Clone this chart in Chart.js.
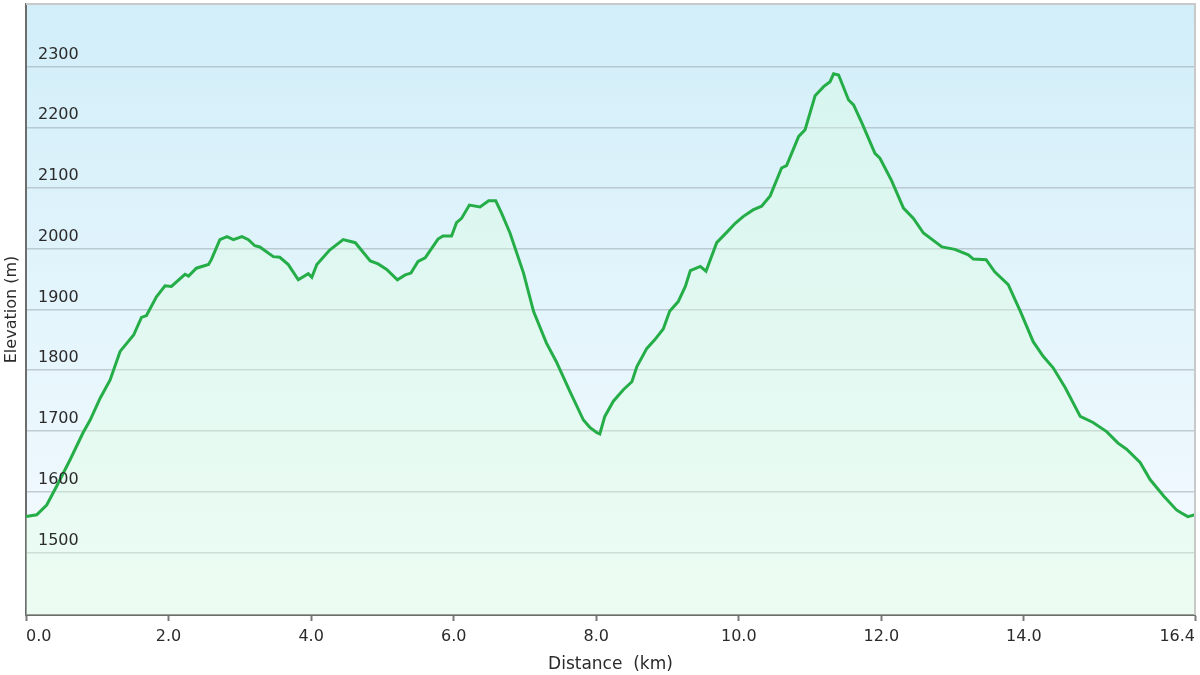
<!DOCTYPE html>
<html>
<head>
<meta charset="utf-8">
<title>Elevation profile</title>
<script src="https://cdn.jsdelivr.net/npm/chart.js@4.4.1/dist/chart.umd.min.js"></script>
<style>
  html, body { margin: 0; padding: 0; background: #ffffff; }
  #wrap { width: 1200px; height: 675px; }
</style>
</head>
<body>
<div id="wrap"><canvas id="profileChart"></canvas></div>
<script>
// Distance along the track (km) and elevation (m)
const distanceKm = [
  0.00, 0.15, 0.29, 0.43, 0.62, 0.80, 0.90, 1.04, 1.18, 1.32,
  1.51, 1.62, 1.69, 1.83, 1.95, 2.04, 2.23, 2.28, 2.39, 2.56,
  2.60, 2.72, 2.82, 2.91, 3.03, 3.12, 3.21, 3.28, 3.47, 3.56,
  3.68, 3.82, 3.96, 4.01, 4.08, 4.26, 4.45, 4.62, 4.83, 4.94,
  5.06, 5.21, 5.32, 5.40, 5.50, 5.60, 5.78, 5.85, 5.97, 6.04,
  6.11, 6.22, 6.37, 6.49, 6.59, 6.67, 6.79, 6.98, 7.12, 7.30,
  7.44, 7.63, 7.82, 7.91, 8.01, 8.05, 8.12, 8.24, 8.38, 8.50,
  8.57, 8.71, 8.82, 8.94, 9.03, 9.15, 9.25, 9.32, 9.46, 9.54,
  9.69, 9.83, 9.95, 10.06, 10.20, 10.32, 10.44, 10.60, 10.67, 10.84,
  10.93, 11.07, 11.19, 11.28, 11.33, 11.40, 11.54, 11.61, 11.72, 11.91,
  11.98, 12.14, 12.31, 12.45, 12.59, 12.85, 13.03, 13.22, 13.29, 13.47,
  13.59, 13.78, 13.95, 14.13, 14.27, 14.41, 14.58, 14.79, 14.97, 15.16,
  15.32, 15.44, 15.63, 15.77, 15.96, 16.14, 16.21, 16.30, 16.40
];
const elevationM = [
  1559, 1562, 1578, 1609, 1653, 1697, 1718, 1754, 1784, 1831,
  1858, 1887, 1890, 1921, 1939, 1938, 1958, 1955, 1968, 1974,
  1982, 2015, 2020, 2015, 2020, 2015, 2005, 2003, 1987, 1986,
  1974, 1949, 1959, 1953, 1974, 1998, 2015, 2010, 1980, 1975,
  1966, 1949, 1957, 1960, 1979, 1985, 2016, 2021, 2021, 2043,
  2050, 2072, 2069, 2079, 2079, 2059, 2026, 1960, 1897, 1845,
  1814, 1765, 1718, 1706, 1697, 1695, 1724, 1749, 1768, 1781,
  1806, 1836, 1850, 1868, 1897, 1913, 1938, 1964, 1971, 1963,
  2010, 2027, 2042, 2053, 2064, 2070, 2087, 2133, 2137, 2185,
  2196, 2252, 2267, 2275, 2288, 2286, 2245, 2237, 2209, 2157,
  2149, 2113, 2067, 2050, 2026, 2003, 1999, 1990, 1983, 1982,
  1962, 1941, 1897, 1847, 1823, 1804, 1771, 1724, 1714, 1699,
  1680, 1670, 1648, 1620, 1593, 1570, 1565, 1559, 1562
];

// Tick positions shown on the axes
const xTickValues = [0, 2, 4, 6, 8, 10, 12, 14, 16.4];
const yTickValues = [1500, 1600, 1700, 1800, 1900, 2000, 2100, 2200, 2300];

const axisFont = "'DejaVu Sans', Verdana, sans-serif";

document.addEventListener("DOMContentLoaded", function() {
    // Build the point list from the two arrays
    const points = distanceKm.map((d, i) => ({ x: d, y: elevationM[i] }));

    // Pale blue background of the plot area + thin frame on top/right
    const plotBackground = {
        id: 'plotBackground',
        beforeDraw(chart) {
            const { ctx, chartArea } = chart;
            if (!chartArea) return;
            const g = ctx.createLinearGradient(0, chartArea.top, 0, chartArea.bottom);
            g.addColorStop(0, '#d1eef9');
            g.addColorStop(1, '#f6fbff');
            ctx.save();
            ctx.fillStyle = g;
            ctx.fillRect(chartArea.left, chartArea.top,
                chartArea.right - chartArea.left, chartArea.bottom - chartArea.top);
            ctx.restore();
        },
        afterDraw(chart) {
            const { ctx, chartArea } = chart;
            ctx.save();
            ctx.strokeStyle = '#c9c9c9';
            ctx.lineWidth = 2;
            ctx.beginPath();
            ctx.moveTo(chartArea.left, chartArea.top);
            ctx.lineTo(chartArea.right, chartArea.top);
            ctx.lineTo(chartArea.right, chartArea.bottom);
            ctx.stroke();
            ctx.restore();
        }
    };

    new Chart(document.getElementById('profileChart'), {
        type: 'line',
        data: {
            datasets: [{
                data: points,
                borderColor: '#25ad48',
                borderWidth: 3,
                backgroundColor: 'rgba(220, 255, 220, 0.35)',
                fill: 'start',
                pointRadius: 0,
                tension: 0
            }]
        },
        options: {
            responsive: true,
            maintainAspectRatio: false,
            animation: false,
            layout: { padding: { top: 4, right: 5, left: 0, bottom: 0 } },
            plugins: {
                legend: { display: false },
                tooltip: { enabled: false }
            },
            scales: {
                x: {
                    type: 'linear',
                    min: 0,
                    max: 16.4,
                    afterBuildTicks: scale => {
                        scale.ticks = xTickValues.map(v => ({ value: v }));
                    },
                    afterFit: scale => {
                        scale.paddingLeft = 0;
                        scale.paddingRight = 0;
                    },
                    grid: {
                        drawOnChartArea: false,
                        drawTicks: true,
                        tickLength: 6,
                        tickColor: '#7a7a7a',
                        tickWidth: 2
                    },
                    border: { display: true, color: '#6d6d6d', width: 2 },
                    ticks: {
                        align: 'inner',
                        padding: 6.4,
                        maxRotation: 0,
                        color: '#2b2b2b',
                        font: { family: axisFont, size: 16 },
                        callback: v => Number(v).toFixed(1)
                    },
                    title: {
                        display: true,
                        text: 'Distance  (km)',
                        color: '#2b2b2b',
                        font: { family: axisFont, size: 17 },
                        padding: { top: 1.6, bottom: 0 }
                    }
                },
                y: {
                    min: 1397,
                    max: 2403,
                    afterBuildTicks: scale => {
                        scale.ticks = yTickValues.map(v => ({ value: v }));
                    },
                    afterFit: scale => {
                        scale.width = 26;
                        scale.paddingTop = 0;
                        scale.paddingBottom = 0;
                    },
                    grid: {
                        color: 'rgba(150, 162, 168, 0.5)',
                        lineWidth: 1.5,
                        drawTicks: false
                    },
                    border: { display: true, color: '#6d6d6d', width: 2 },
                    ticks: {
                        z: 1, // labels stay on top of the fill
                        mirror: true,
                        padding: 12,
                        labelOffset: -12,
                        color: '#2b2b2b',
                        font: { family: axisFont, size: 16 },
                        callback: v => String(v)
                    },
                    title: {
                        display: true,
                        text: 'Elevation (m)',
                        color: '#2b2b2b',
                        font: { family: axisFont, size: 16 },
                        padding: { top: 2, bottom: 5 }
                    }
                }
            }
        },
        plugins: [plotBackground]
    });
});
</script>
</body>
</html>
